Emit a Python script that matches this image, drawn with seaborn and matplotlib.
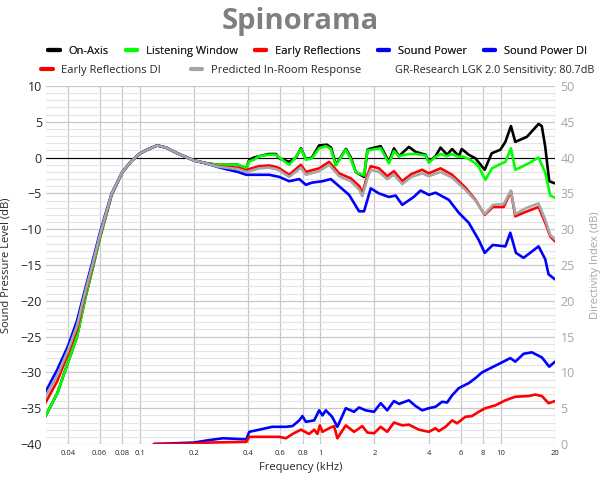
import numpy as np
import pandas as pd
import matplotlib
matplotlib.use("Agg")
import matplotlib.pyplot as plt
from matplotlib.lines import Line2D
from matplotlib.ticker import MultipleLocator, FixedLocator, NullLocator
import seaborn as sns

# frequencies in kHz, levels in dB
low_f = [0.030, 0.035, 0.040, 0.045, 0.050, 0.055, 0.060, 0.065, 0.070, 0.080, 0.090,
         0.100, 0.110, 0.125, 0.140, 0.160, 0.180, 0.200, 0.230, 0.270, 0.300, 0.350, 0.390]

on_axis_f = low_f + [0.405, 0.43, 0.46, 0.52, 0.57, 0.594, 0.674, 0.734, 0.783, 0.834, 0.9,
                     0.987, 1.09, 1.15, 1.22, 1.39, 1.48, 1.575, 1.75, 1.83, 1.865, 2.165,
                     2.405, 2.564, 2.733, 3.102, 3.379, 3.837, 4.0, 4.358, 4.645, 5.051,
                     5.383, 5.861, 6.088, 6.656, 7.248, 8.157, 8.92, 9.96, 10.62, 11.4,
                     12.05, 12.85, 13.97, 16.22, 16.9, 17.66, 18.58, 20.0]
on_axis = [-36.2, -32.9, -28.7, -25.0, -19.6, -15.4, -11.4, -8.2, -5.2, -2.1, -0.5,
           0.55, 1.1, 1.7, 1.4, 0.65, 0.1, -0.4, -0.75, -1.0, -1.0, -1.0, -1.5,
           -0.3, 0.0, 0.2, 0.5, 0.5, -0.1, -0.6, 0.0, 1.3, -0.2, 0.0,
           1.7, 1.8, 1.4, -1.0, 1.2, 0.0, -2.0, -2.7, 1.1, 1.2, 1.6,
           -0.6, 1.3, 0.2, 1.5, 0.8, 0.4, -0.6, 0.2, 1.4, 0.4,
           1.2, 0.2, 1.2, 0.4, -0.1, -1.7, 0.6, 1.1, 2.2, 4.4,
           2.2, 2.5, 2.9, 4.7, 4.4, 1.5, -3.3, -3.6]

lw_f = low_f + [0.405, 0.43, 0.46, 0.52, 0.569, 0.617, 0.674, 0.734, 0.783, 0.834, 0.9,
                0.987, 1.075, 1.146, 1.221, 1.387, 1.478, 1.575, 1.75, 1.83, 2.165, 2.405,
                2.564, 2.733, 3.102, 3.379, 3.837, 4.0, 4.358, 4.645, 5.051, 5.383, 5.861,
                6.088, 6.656, 7.248, 7.558, 8.231, 8.954, 9.961, 10.62, 11.4, 12.05, 13.06,
                14.28, 16.22, 17.66, 18.82, 20.0]
listening = [-36.2, -32.9, -28.7, -25.0, -19.6, -15.4, -11.4, -8.2, -5.2, -2.1, -0.5,
             0.55, 1.1, 1.7, 1.4, 0.65, 0.1, -0.4, -0.75, -1.0, -1.0, -1.0, -1.5,
             -0.5, -0.3, 0.2, 0.4, 0.4, -0.3, -1.0, 0.1, 1.2, -0.3, -0.1,
             1.3, 1.6, 1.2, -1.1, 1.1, -0.2, -2.0, -2.5, 1.0, 1.3, -0.8,
             0.9, 0.2, 0.5, 0.5, 0.3, -0.7, 0.1, 0.5, 0.2, 0.5, 0.1,
             0.2, -0.2, -0.8, -1.3, -3.1, -1.5, -0.9, -0.6, 1.3, -1.7, -1.3,
             -0.8, 0.0, -2.1, -5.3, -5.6]

er_f = low_f + [0.405, 0.46, 0.52, 0.569, 0.594, 0.674, 0.783, 0.834, 0.987, 1.121, 1.274,
                1.478, 1.65, 1.713, 1.826, 1.906, 2.118, 2.353, 2.564, 2.85, 3.2, 3.675,
                4.0, 4.645, 5.383, 6.383, 7.248, 8.157, 9.05, 10.39, 11.4, 12.05, 13.69,
                16.22, 17.66, 18.82, 20.0]
early_refl = [-34.3, -31.2, -27.5, -24.0, -19.0, -15.0, -11.1, -8.0, -5.1, -2.05, -0.5,
              0.55, 1.1, 1.7, 1.4, 0.65, 0.1, -0.4, -0.75, -1.2, -1.3, -1.4, -1.8,
              -1.6, -1.2, -1.1, -1.3, -1.5, -2.4, -1.0, -2.0, -1.5, -0.6, -2.2,
              -2.9, -4.0, -5.0, -2.5, -1.2, -1.5, -2.6, -1.9, -3.3, -2.3, -1.7,
              -2.2, -1.5, -2.4, -4.2, -5.9, -8.0, -6.9, -6.9, -4.7, -8.2, -7.6,
              -6.9, -9.1, -11.0, -11.7]

pir = [-33.4, -30.4, -27.0, -23.5, -18.7, -14.8, -11.0, -7.9, -5.05, -2.05, -0.5,
       0.55, 1.1, 1.7, 1.4, 0.65, 0.1, -0.4, -0.75, -1.25, -1.4, -1.6, -2.0,
       -1.9, -1.5, -1.4, -1.6, -1.8, -2.7, -1.4, -2.4, -1.9, -1.0, -2.6,
       -3.3, -4.5, -5.4, -2.9, -1.7, -2.0, -3.0, -2.4, -3.7, -2.7, -2.2,
       -2.6, -2.0, -2.8, -4.5, -6.0, -7.9, -6.6, -6.5, -4.6, -7.9, -7.1,
       -6.4, -8.7, -10.8, -11.4]

sp_f = low_f + [0.46, 0.523, 0.594, 0.674, 0.766, 0.834, 0.9, 1.03, 1.146, 1.274, 1.446,
                1.643, 1.751, 1.906, 2.118, 2.405, 2.62, 2.85, 3.3, 3.6, 4.0, 4.358,
                5.161, 5.861, 6.656, 7.558, 8.157, 9.05, 10.62, 11.31, 12.15, 13.4,
                16.22, 17.66, 18.42, 20.0]
sound_power = [-32.8, -29.6, -26.4, -22.8, -18.3, -14.4, -10.7, -7.7, -5.0, -2.05, -0.5,
               0.55, 1.1, 1.7, 1.4, 0.65, 0.1, -0.4, -0.75, -1.3, -1.6, -2.0, -2.4,
               -2.4, -2.4, -2.7, -3.3, -3.0, -3.8, -3.5, -3.3, -3.0, -4.0, -5.2,
               -7.5, -7.5, -4.3, -5.0, -5.5, -5.3, -6.6, -5.5, -4.6, -5.2, -4.9,
               -5.9, -7.7, -9.1, -11.5, -13.3, -12.2, -12.4, -10.5, -13.3, -14.0,
               -12.4, -14.2, -16.3, -17.0]

di_f = [0.12, 0.2, 0.244, 0.29, 0.39, 0.405, 0.46, 0.543, 0.646, 0.703, 0.766, 0.798,
        0.834, 0.927, 0.987, 1.03, 1.075, 1.165, 1.246, 1.387, 1.541, 1.643, 1.789,
        1.988, 2.165, 2.353, 2.564, 2.733, 3.102, 3.379, 3.675, 4.0, 4.358, 4.74,
        5.051, 5.383, 5.861, 6.656, 7.248, 7.882, 8.954, 10.17, 11.31, 12.05, 13.4,
        14.89, 16.91, 18.58, 20.0]
sp_di = [0.0, 0.2, 0.55, 0.8, 0.65, 1.7, 2.0, 2.4, 2.4, 2.5, 3.3, 3.9,
         3.1, 3.3, 4.7, 4.0, 4.7, 3.8, 2.4, 5.0, 4.5, 5.1, 4.7,
         4.5, 5.7, 4.7, 6.0, 5.6, 6.1, 5.3, 4.7, 5.0, 5.2, 5.9,
         5.8, 6.8, 7.8, 8.5, 9.2, 10.0, 10.7, 11.4, 12.0, 11.5, 12.6,
         12.8, 12.1, 10.8, 11.5]

erdi_f = [0.12, 0.2, 0.244, 0.39, 0.405, 0.594, 0.646, 0.703, 0.783, 0.869, 0.927, 0.966,
          0.996, 1.03, 1.121, 1.195, 1.246, 1.387, 1.541, 1.713, 1.826, 1.988, 2.165,
          2.353, 2.564, 2.85, 3.102, 3.524, 4.0, 4.358, 4.545, 4.95, 5.383, 5.736,
          6.383, 6.941, 7.558, 8.231, 9.349, 10.62, 12.05, 14.28, 15.55, 16.91, 18.42, 20.0]
er_di = [0.0, 0.05, 0.2, 0.3, 1.0, 1.0, 0.8, 1.4, 2.0, 1.4, 2.0, 1.4,
         2.6, 1.7, 2.2, 2.5, 0.8, 2.6, 1.7, 2.5, 1.6, 1.5, 2.4,
         1.7, 3.0, 2.6, 2.7, 2.0, 1.7, 2.2, 1.8, 2.4, 3.3, 2.9,
         3.8, 3.9, 4.5, 5.0, 5.4, 6.1, 6.6, 6.7, 6.9, 6.7, 5.7, 6.0]

x_ticks = [0.04, 0.06, 0.08, 0.1, 0.2, 0.4, 0.6, 0.8, 1, 2, 4, 6, 8, 10, 20]
x_tick_labels = ["0.04", "0.06", "0.08", "0.1", "0.2", "0.4", "0.6", "0.8",
                 "1", "2", "4", "6", "8", "10", "20"]

sns.set_style("white")
plt.rcParams["font.family"] = ["Open Sans", "DejaVu Sans"]

fig = plt.figure(figsize=(6, 4.8), dpi=100)
ax = fig.add_axes([46 / 600, 36 / 480, 509 / 600, 358 / 480])
ax2 = ax.twinx()

grid_col = "#c8c8c8"
ax.set_xscale("log")
ax.set_xlim(0.0303, 20)
ax.set_ylim(-40, 10)
ax2.set_ylim(0, 50)

ax.xaxis.set_major_locator(FixedLocator(x_ticks))
ax.xaxis.set_minor_locator(NullLocator())
ax.set_xticklabels(x_tick_labels, fontsize=5.5)
ax.yaxis.set_major_locator(MultipleLocator(5))
ax.yaxis.set_minor_locator(MultipleLocator(1))
ax.grid(which="major", axis="both", color=grid_col, lw=0.9)
ax.grid(which="minor", axis="y", color="#e3e3e3", lw=0.8)
ax.set_axisbelow(True)
ax.tick_params(axis="both", which="both", length=0, labelsize=9)
ax.tick_params(axis="x", labelsize=5.5, pad=4)
ax.tick_params(axis="y", pad=3)
ax2.yaxis.set_major_locator(MultipleLocator(5))
ax2.tick_params(axis="y", length=0, labelsize=9, labelcolor="#a6a6a6", pad=4)
for a in (ax, ax2):
    for s in a.spines.values():
        s.set_visible(False)

ax.axhline(0, color="black", lw=0.8, zorder=1)

curves = [
    (on_axis_f, on_axis, "#000000"),
    (lw_f, listening, "#00ff00"),
    (er_f, early_refl, "#ff0000"),
    (sp_f, sound_power, "#0000ff"),
    (er_f, pir, "#a6a6a6"),
]
for f, v, c in curves:
    sns.lineplot(x=f, y=v, ax=ax, color=c, lw=1.9, legend=False, sort=False)

sns.lineplot(x=di_f, y=sp_di, ax=ax2, color="#0000ff", lw=1.9, legend=False, sort=False)
sns.lineplot(x=erdi_f, y=er_di, ax=ax2, color="#ff0000", lw=1.9, legend=False, sort=False)
ax2.set_xlim(0.0303, 20)

ax.set_xlabel("Frequency (kHz)", fontsize=8)
ax.set_ylabel("Sound Pressure Level (dB)", fontsize=8, labelpad=6)
ax2.set_ylabel("Directivity Index (dB)", fontsize=8, color="#a6a6a6", labelpad=11)

fig.text(0.5, 0.955, "Spinorama", ha="center", va="center", fontsize=21,
         fontweight="bold", color="#7f7f7f")

def h(c):
    return Line2D([], [], color=c, lw=3)

row1 = [h("#000000"), h("#00ff00"), h("#ff0000"), h("#0000ff"), h("#0000ff")]
lab1 = ["On-Axis", "Listening Window", "Early Reflections", "Sound Power", "Sound Power DI"]
leg1 = fig.legend(row1, lab1, loc="center left", bbox_to_anchor=(44 / 600, 0.892), ncol=5,
                  frameon=False, fontsize=8, handlelength=1.0, handletextpad=0.8,
                  columnspacing=1.55, borderaxespad=0.0)
row2 = [h("#ff0000"), h("#a6a6a6")]
lab2 = ["Early Reflections DI", "Predicted In-Room Response"]
leg2 = fig.legend(row2, lab2, loc="center left", bbox_to_anchor=(37 / 600, 0.854), ncol=2,
                  frameon=False, fontsize=8, handlelength=1.0, handletextpad=0.8,
                  columnspacing=2.7, borderaxespad=0.0)
fig.add_artist(leg1)
fig.text(395 / 600, 0.854, "GR-Research LGK 2.0 Sensitivity: 80.7dB", ha="left",
         va="center", fontsize=7.8)

fig.savefig("out.png", dpi=100)
